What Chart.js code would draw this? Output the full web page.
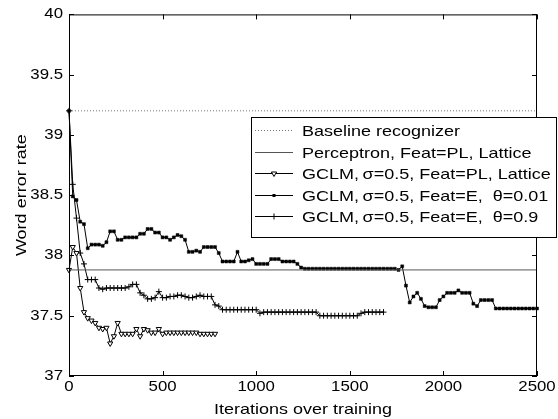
<!DOCTYPE html>
<html>
<head>
<meta charset="utf-8">
<script src="https://cdn.jsdelivr.net/npm/chart.js@4.4.0/dist/chart.umd.min.js"></script>
<style>
    html, body { margin: 0; padding: 0; background: #fff; }
    #wrap { width: 558px; height: 419px; position: relative; }
</style>
</head>
<body>
<div id="wrap"><canvas id="werChart"></canvas></div>
<script>
// iterations at which the GCLM runs were sampled
const iterations = [
    0, 20, 40, 60, 80, 100, 120, 140, 160, 180, 200, 220, 240, 260, 280, 300, 320, 340, 360, 380,
    400, 420, 440, 460, 480, 500, 520, 540, 560, 580, 600, 620, 640, 660, 680, 700, 720, 740, 760, 780,
    800, 820, 840, 860, 880, 900, 920, 940, 960, 980, 1000, 1020, 1040, 1060, 1080, 1100, 1120, 1140, 1160, 1180,
    1200, 1220, 1240, 1260, 1280, 1300, 1320, 1340, 1360, 1380, 1400, 1420, 1440, 1460, 1480, 1500, 1520, 1540, 1560, 1580,
    1600, 1620, 1640, 1660, 1680, 1700, 1720, 1740, 1760, 1780, 1800, 1820, 1840, 1860, 1880, 1900, 1920, 1940, 1960, 1980,
    2000, 2020, 2040, 2060, 2080, 2100, 2120, 2140, 2160, 2180, 2200, 2220, 2240, 2260, 2280, 2300, 2320, 2340, 2360, 2380,
    2400, 2420, 2440, 2460, 2480, 2500
];

const lineRange = [0, 2500];
const baselineWER = 39.2;
const perceptronWER = 37.88;

// GCLM, sigma=0.5, Feat=PL, Lattice
const gclmPlWER = [
    37.88, 38.07, 38.02, 37.73, 37.53, 37.48, 37.46, 37.44, 37.40, 37.39,
    37.40, 37.27, 37.33, 37.44, 37.35, 37.35, 37.35, 37.35, 37.39, 37.33,
    37.39, 37.38, 37.36, 37.36, 37.39, 37.35, 37.36, 37.36, 37.36, 37.36,
    37.36, 37.36, 37.36, 37.36, 37.36, 37.35, 37.35, 37.35, 37.35, 37.35
];

// GCLM, sigma=0.5, Feat=E, theta=0.01
const gclmE001WER = [
    39.20, 38.49, 38.46, 38.28, 38.26, 38.06, 38.09, 38.09, 38.09, 38.08,
    38.11, 38.20, 38.20, 38.13, 38.13, 38.15, 38.15, 38.15, 38.15, 38.18,
    38.18, 38.22, 38.22, 38.19, 38.19, 38.15, 38.15, 38.13, 38.15, 38.17,
    38.16, 38.13, 38.03, 38.03, 38.04, 38.03, 38.07, 38.07, 38.07, 38.07,
    38.02, 37.95, 37.95, 37.95, 37.95, 38.03, 37.95, 37.95, 37.96, 37.97,
    37.93, 37.93, 37.93, 37.93, 37.97, 37.97, 37.97, 37.95, 37.95, 37.95,
    37.95, 37.93, 37.90, 37.89, 37.89, 37.89, 37.89, 37.89, 37.89, 37.89,
    37.89, 37.89, 37.89, 37.89, 37.89, 37.89, 37.89, 37.89, 37.89, 37.89,
    37.89, 37.89, 37.89, 37.89, 37.89, 37.89, 37.89, 37.89, 37.88, 37.91,
    37.75, 37.61, 37.66, 37.69, 37.64, 37.58, 37.57, 37.57, 37.57, 37.63,
    37.66, 37.69, 37.69, 37.69, 37.71, 37.69, 37.69, 37.69, 37.60, 37.58,
    37.63, 37.63, 37.63, 37.63, 37.56, 37.56, 37.56, 37.56, 37.56, 37.56,
    37.56, 37.56, 37.56, 37.56, 37.56, 37.56
];

// GCLM, sigma=0.5, Feat=E, theta=0.9
const gclmE09WER = [
    39.20, 38.59, 38.31, 38.02, 37.93, 37.80, 37.80, 37.80, 37.73, 37.72,
    37.73, 37.73, 37.73, 37.73, 37.73, 37.73, 37.74, 37.76, 37.76, 37.69,
    37.67, 37.64, 37.64, 37.65, 37.70, 37.65, 37.65, 37.66, 37.66, 37.67,
    37.67, 37.66, 37.65, 37.65, 37.66, 37.67, 37.66, 37.66, 37.66, 37.59,
    37.58, 37.55, 37.55, 37.55, 37.55, 37.55, 37.55, 37.55, 37.55, 37.55,
    37.55, 37.52, 37.53, 37.53, 37.53, 37.53, 37.53, 37.53, 37.53, 37.53,
    37.53, 37.53, 37.53, 37.53, 37.53, 37.53, 37.53, 37.50, 37.50, 37.50,
    37.50, 37.50, 37.50, 37.50, 37.50, 37.50, 37.50, 37.50, 37.52, 37.53,
    37.53, 37.53, 37.53, 37.53, 37.53
];

const xTicks = [0, 500, 1000, 1500, 2000, 2500];
const yTicks = [37, 37.5, 38, 38.5, 39, 39.5, 40];

const seriesLabels = [
    "Baseline recognizer",
    "Perceptron, Feat=PL, Lattice",
    "GCLM,\u2009σ=0.5, Feat=PL, Lattice",
    "GCLM,\u2009σ=0.5, Feat=E,  θ=0.01",
    "GCLM,\u2009σ=0.5, Feat=E,  θ=0.9"
];

// the source figure's lettering is wider than it is tall
const textStretch = 1.2;

function toPoints(values) {
    return values.map((v, i) => ({ x: iterations[i], y: v }));
}

function flatLine(value) {
    return lineRange.map(x => ({ x: x, y: value }));
}

function drawMarker(ctx, kind, x, y) {
    ctx.save();
    ctx.strokeStyle = "#000";
    ctx.lineWidth = 1;
    if (kind === "tri") {
        const r = 3;
        ctx.beginPath();
        ctx.moveTo(x, y + r);
        ctx.lineTo(x - r * 0.87, y - r / 2);
        ctx.lineTo(x + r * 0.87, y - r / 2);
        ctx.closePath();
        ctx.fillStyle = "#fff";
        ctx.fill();
        ctx.stroke();
    } else if (kind === "sq") {
        ctx.fillStyle = "#000";
        ctx.fillRect(x - 1.5, y - 1.5, 3, 3);
    } else if (kind === "plus") {
        ctx.beginPath();
        ctx.moveTo(x - 3, y); ctx.lineTo(x + 3, y);
        ctx.moveTo(x, y - 3); ctx.lineTo(x, y + 3);
        ctx.stroke();
    }
    ctx.restore();
}

const legendKinds = [null, null, "tri", "sq", "plus"];

const stretchText = {
    id: "stretchText",
    beforeInit(chart) {
        const c = chart.ctx;
        const orig = c.fillText.bind(c);
        c.fillText = function (text, x, y) {
            c.save();
            c.translate(x, y);
            c.scale(textStretch, 1);
            orig(text, 0, 0);
            c.restore();
        };
    }
};

const matlabAxes = {
    id: "matlabAxes",
    afterDatasetsDraw(chart) {
        const { ctx, chartArea: a, scales } = chart;
        ctx.save();
        ctx.strokeStyle = "#000";
        ctx.lineWidth = 1;
        ctx.strokeRect(a.left + 0.5, a.top + 0.5, a.right - a.left - 1, a.bottom - a.top - 1);
        ctx.beginPath();
        xTicks.forEach(v => {
            const px = Math.round(scales.x.getPixelForValue(v)) + 0.5;
            ctx.moveTo(px, a.bottom); ctx.lineTo(px, a.bottom - 5);
            ctx.moveTo(px, a.top); ctx.lineTo(px, a.top + 5);
        });
        yTicks.forEach(v => {
            const py = Math.round(scales.y.getPixelForValue(v)) + 0.5;
            ctx.moveTo(a.left, py); ctx.lineTo(a.left + 5, py);
            ctx.moveTo(a.right, py); ctx.lineTo(a.right - 5, py);
        });
        ctx.stroke();
        ctx.restore();
    }
};

const boxLegend = {
    id: "boxLegend",
    afterDraw(chart) {
        const ctx = chart.ctx;
        const left = 251, top = 117, w = 305, h = 120;
        ctx.save();
        ctx.fillStyle = "#fff";
        ctx.fillRect(left, top, w, h);
        ctx.strokeStyle = "#000";
        ctx.lineWidth = 1;
        ctx.strokeRect(left + 0.5, top + 0.5, w, h);
        ctx.font = "15px 'Liberation Sans', Arial, sans-serif";
        ctx.textBaseline = "middle";
        ctx.textAlign = "left";
        chart.data.datasets.forEach((ds, i) => {
            const y = Math.round(top + 13 + i * 21.5) + 0.5;
            ctx.save();
            ctx.strokeStyle = ds.borderColor;
            ctx.lineWidth = 1;
            ctx.setLineDash(ds.borderDash || []);
            ctx.beginPath();
            ctx.moveTo(255, y);
            ctx.lineTo(293, y);
            ctx.stroke();
            ctx.restore();
            if (legendKinds[i]) drawMarker(ctx, legendKinds[i], 274, y);
            ctx.fillStyle = "#000";
            ctx.fillText(ds.label, 302, y + 1);
        });
        ctx.restore();
    }
};

Chart.defaults.font.family = "'Liberation Sans', Arial, sans-serif";
Chart.defaults.font.size = 15;
Chart.defaults.color = "#000";

const ctx = document.getElementById("werChart").getContext("2d");

new Chart(ctx, {
    type: "line",
    data: {
        datasets: [
            {
                label: seriesLabels[0],
                data: flatLine(baselineWER),
                borderColor: "#777",
                borderWidth: 1,
                borderDash: [1, 2],
                pointRadius: 0
            },
            {
                label: seriesLabels[1],
                data: flatLine(perceptronWER),
                borderColor: "#555",
                borderWidth: 1,
                pointRadius: 0
            },
            {
                label: seriesLabels[2],
                data: toPoints(gclmPlWER),
                borderColor: "#000",
                borderWidth: 1,
                pointStyle: "triangle",
                rotation: 180,
                pointRadius: 3,
                pointBackgroundColor: "#fff",
                pointBorderColor: "#000",
                pointBorderWidth: 1
            },
            {
                label: seriesLabels[3],
                data: toPoints(gclmE001WER),
                borderColor: "#000",
                borderWidth: 1,
                pointStyle: "rect",
                pointRadius: 2.1,
                pointBackgroundColor: "#000",
                pointBorderColor: "#000",
                pointBorderWidth: 0.5
            },
            {
                label: seriesLabels[4],
                data: toPoints(gclmE09WER),
                borderColor: "#000",
                borderWidth: 1,
                pointStyle: "cross",
                pointRadius: 3,
                pointBorderColor: "#000",
                pointBorderWidth: 1
            }
        ]
    },
    options: {
        responsive: true,
        maintainAspectRatio: false,
        animation: false,
        clip: false,
        layout: { padding: { left: 0, right: 21, top: 14, bottom: 0 } },
        plugins: { legend: { display: false }, tooltip: { enabled: false } },
        elements: { line: { tension: 0 } },
        scales: {
            x: {
                type: "linear",
                min: 0,
                max: 2500,
                afterBuildTicks: s => { s.ticks = xTicks.map(v => ({ value: v })); },
                afterFit: s => { s.height = 43; },
                grid: { display: false, drawTicks: false },
                border: { display: false },
                ticks: { padding: 3, maxRotation: 0, autoSkip: false, font: { size: 14 }, callback: v => String(v) },
                title: { display: true, text: "Iterations over training", padding: { top: 0, bottom: 0 } }
            },
            y: {
                min: 37,
                max: 40,
                afterBuildTicks: s => { s.ticks = yTicks.map(v => ({ value: v })); },
                afterFit: s => { s.width = 69; },
                grid: { display: false, drawTicks: false },
                border: { display: false },
                ticks: { padding: 6, font: { size: 14 }, callback: v => String(v) },
                title: { display: true, text: "Word error rate", padding: { top: 13, bottom: 0 } }
            }
        }
    },
    plugins: [stretchText, matlabAxes, boxLegend]
});
</script>
</body>
</html>
